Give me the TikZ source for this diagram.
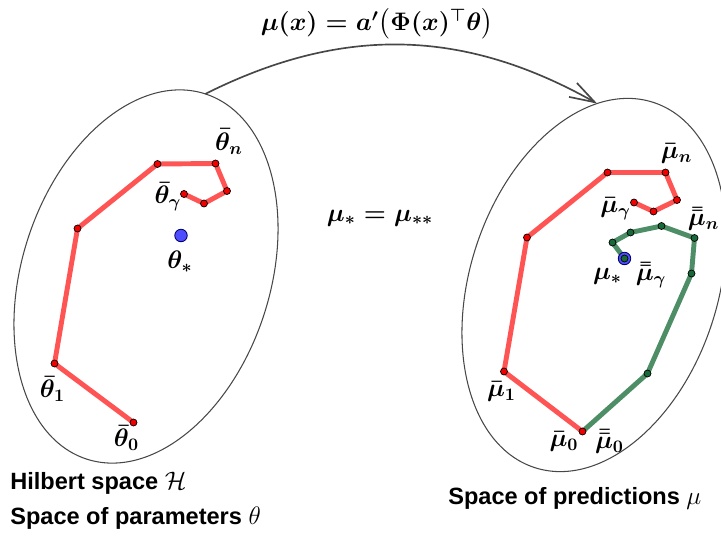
\documentclass[tikz,border=0pt]{standalone}
\usepackage{amssymb}
\usepackage{amsmath}
\usepackage{fontspec}
\setmainfont{Liberation Sans}
\usepackage{tikz}
\usepackage{xcolor}
\usetikzlibrary{arrows.meta, shapes.geometric, backgrounds}

\definecolor{pathred}{HTML}{FF5454}
\definecolor{dotred}{HTML}{F20000}
\definecolor{pathgreen}{HTML}{4E8E66}
\definecolor{dotgreen}{HTML}{17693A}
\definecolor{optblue}{HTML}{4E4EFF}

\tikzset{
  spaceoval/.style={draw=black!72, line width=0.6pt, ellipse, rotate=-18,
    minimum width=4.96cm, minimum height=7.68cm, inner sep=0pt, outer sep=0pt},
  maparrow/.style={draw=black!72, line width=0.95pt,
    -{Straight Barb[length=5mm, width=3.2mm]}},
  iterred/.style={circle, draw=black, line width=0.4pt, fill=dotred,
    inner sep=0pt, minimum size=0.14cm},
  itergreen/.style={circle, draw=black, line width=0.4pt, fill=dotgreen,
    inner sep=0pt, minimum size=0.14cm},
  optdot/.style={circle, draw=black!60!blue, line width=0.5pt, fill=optblue,
    inner sep=0pt, minimum size=0.25cm},
  redpath/.style={draw=pathred, line width=2.8pt, line join=round},
  greenpath/.style={draw=pathgreen, line width=2.8pt, line join=round},
  mlabel/.style={font=\fontsize{14.5}{16}\selectfont\boldmath, inner sep=0pt},
  caption/.style={anchor=west, inner sep=0pt}
}

\begin{document}
\begin{tikzpicture}[font=\fontsize{13.4}{16}\selectfont\bfseries]

\useasboundingbox (0,0) rectangle (14.42,10.76);

\node[spaceoval] (hil) at (2.92,5.23) {};
\node[spaceoval] (pred) at (11.88,5.06) {};

\draw[maparrow] (hil.north) to[bend left=28] (pred.107);
\node[mlabel] (map) at (7.54,10.28) {$\mu(x) = a'\big(\Phi(x)^\top\theta\big)$};

% parameter space
\node[iterred] (t0) at (2.67,2.31) {};
\node[iterred] (t1) at (1.09,3.49) {};
\node[iterred] (t2) at (1.55,6.19) {};
\node[iterred] (t3) at (3.15,7.48) {};
\node[iterred] (tn) at (4.31,7.49) {};
\node[iterred] (t5) at (4.54,6.94) {};
\node[iterred] (t6) at (4.08,6.69) {};
\node[iterred] (tg) at (3.68,6.88) {};
\node[optdot] (ts) at (3.62,6.05) {};

\begin{scope}[on background layer]
\draw[redpath] (t0.center) -- (t1.center) -- (t2.center) -- (t3.center)
  -- (tn.center) -- (t5.center) -- (t6.center) -- (tg.center);
\end{scope}

\node[mlabel] (lt0) at (2.53,2.00) {$\bar\theta_0$};
\node[mlabel] (lt1) at (1.05,2.98) {$\bar\theta_1$};
\node[mlabel] (ltn) at (4.58,7.93) {$\bar\theta_n$};
\node[mlabel] (ltg) at (3.36,6.83) {$\bar\theta_\gamma$};
\node[mlabel] (lts) at (3.60,5.53) {$\theta_*$};

% prediction space
\node[iterred] (m0) at (11.65,2.13) {};
\node[iterred] (m1) at (10.08,3.33) {};
\node[iterred] (m2) at (10.54,6.01) {};
\node[iterred] (m3) at (12.15,7.31) {};
\node[iterred] (mn) at (13.31,7.31) {};
\node[iterred] (m5) at (13.54,6.76) {};
\node[iterred] (m6) at (13.07,6.53) {};
\node[iterred] (mg) at (12.68,6.71) {};

\node[itergreen] (g1) at (12.95,3.29) {};
\node[itergreen] (g2) at (13.83,5.29) {};
\node[itergreen] (gn) at (13.89,6.00) {};
\node[itergreen] (g4) at (13.23,6.24) {};
\node[itergreen] (g5) at (12.61,6.11) {};
\node[itergreen] (g6) at (12.25,5.91) {};
\node[optdot] (ms) at (12.49,5.59) {};
\node[itergreen] (gg) at (12.49,5.59) {};

\begin{scope}[on background layer]
\draw[redpath] (m0.center) -- (m1.center) -- (m2.center) -- (m3.center)
  -- (mn.center) -- (m5.center) -- (m6.center) -- (mg.center);
\draw[greenpath] (m0.center) -- (g1.center) -- (g2.center) -- (gn.center)
  -- (g4.center) -- (g5.center) -- (g6.center) -- (gg.center);
\end{scope}

\node[mlabel] (lm0) at (11.28,1.93) {$\bar\mu_0$};
\node[mlabel] (lgm0) at (12.19,1.93) {$\bar{\bar\mu}_0$};
\node[mlabel] (lm1) at (10.03,2.93) {$\bar\mu_1$};
\node[mlabel] (lmn) at (13.53,7.69) {$\bar\mu_n$};
\node[mlabel] (lmg) at (12.31,6.59) {$\bar\mu_\gamma$};
\node[mlabel] (lgmn) at (14.07,6.38) {$\bar{\bar\mu}_n$};
\node[mlabel] (lms) at (12.15,5.23) {$\mu_*$};
\node[mlabel] (lgmg) at (13.02,5.26) {$\bar{\bar\mu}_\gamma$};

\node[mlabel] (same) at (7.60,6.40) {$\mu_* = \mu_{**}$};

% captions
\node[caption] (cap1) at (0.20,1.10) {Hilbert space $\mathcal{H}$};
\node[caption] (cap2) at (0.20,0.40) {Space of parameters $\theta$};
\node[caption] (cap3) at (8.96,0.80) {Space of predictions $\mu$};

\end{tikzpicture}
\end{document}
